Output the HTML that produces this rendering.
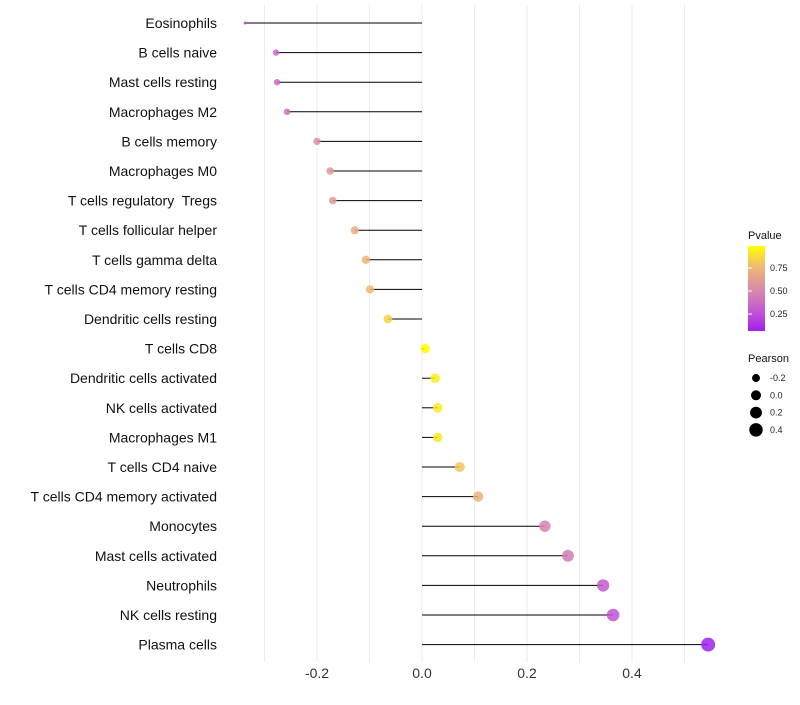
<!DOCTYPE html>
<html><head><meta charset="utf-8"><style>
body{margin:0;background:#fff;font-family:"Liberation Sans",sans-serif;}
text{white-space:pre;}
</style></head><body>
<svg id="chart" width="800" height="700">
<defs><linearGradient id="pg" x1="0" y1="1" x2="0" y2="0">
<stop offset="0" stop-color="#A020F0"/><stop offset="0.2" stop-color="#C050D8"/><stop offset="0.45" stop-color="#D683B0"/><stop offset="0.75" stop-color="#EDB874"/><stop offset="1" stop-color="#FFFF00"/></linearGradient></defs>
<g id="grid"></g><g id="marks"></g><g id="labels"></g><g id="legend"></g>
</svg>
<script>
const categories=["Eosinophils","B cells naive","Mast cells resting","Macrophages M2","B cells memory","Macrophages M0","T cells regulatory  Tregs","T cells follicular helper","T cells gamma delta","T cells CD4 memory resting","Dendritic cells resting","T cells CD8","Dendritic cells activated","NK cells activated","Macrophages M1","T cells CD4 naive","T cells CD4 memory activated","Monocytes","Mast cells activated","Neutrophils","NK cells resting","Plasma cells"];
const pearson=[-0.337,-0.278,-0.276,-0.257,-0.2,-0.175,-0.17,-0.128,-0.107,-0.099,-0.065,0.006,0.025,0.03,0.03,0.072,0.107,0.234,0.278,0.345,0.364,0.545];
const pvalue=[0.2,0.36,0.36,0.4,0.55,0.6,0.6,0.7,0.75,0.77,0.85,0.99,0.93,0.92,0.92,0.8,0.72,0.48,0.44,0.3,0.26,0.065];
const xTicks=[-0.2,0,0.2,0.4];
const xTickLabels=["-0.2","0.0","0.2","0.4"];
const xGrid=[-0.3,-0.2,-0.1,0,0.1,0.2,0.3,0.4,0.5];
const sizeLegend=[-0.2,0,0.2,0.4];
const pTicks=[0.25,0.5,0.75];
const NS="http://www.w3.org/2000/svg";
const X=v=>422+v*525;
const Y=i=>23+i*29.6;
const pmin=0.065,pmax=0.99;
const stops=[[0,[160,32,240]],[0.2,[192,80,216]],[0.45,[214,131,176]],[0.75,[237,184,116]],[1,[255,255,0]]];
function col(p){let t=(p-pmin)/(pmax-pmin);t=Math.max(0,Math.min(1,t));
for(let k=1;k<stops.length;k++){if(t<=stops[k][0]){const a=stops[k-1],b=stops[k];const f=(t-a[0])/(b[0]-a[0]);
return "rgb("+a[1].map((c,j)=>Math.round(c+(b[1][j]-c)*f)).join(",")+")";}}return "rgb(255,255,0)";}
const vmin=Math.min(...pearson),vmax=Math.max(...pearson);
const R=v=>{const f=(v-vmin)/(vmax-vmin);return f<=0.01?1.5:2.7+4.3*Math.pow(f,0.8);};
function mk(tag,attrs,parent,text){const e=document.createElementNS(NS,tag);for(const k in attrs)e.setAttribute(k,attrs[k]);if(text!==undefined)e.textContent=text;document.getElementById(parent).appendChild(e);return e;}
xGrid.forEach(g=>{const l=mk("line",{x1:X(g),x2:X(g),y1:5,y2:662,stroke:"#ebebeb","stroke-width":1},"grid");

});
categories.forEach((c,i)=>{
const s=mk("line",{x1:X(0),x2:X(pearson[i]),y1:Y(i),y2:Y(i),stroke:"#000","stroke-width":1},"marks");


const d=mk("circle",{cx:X(pearson[i]),cy:Y(i),r:R(pearson[i]),fill:col(pvalue[i]),"fill-opacity":0.85},"marks");


const t=mk("text",{x:217,y:Y(i)+5,"text-anchor":"end","font-size":14,fill:"#111"},"labels",c);

});
xTicks.forEach((v,i)=>{const t=mk("text",{x:X(v),y:678,"text-anchor":"middle","font-size":14,fill:"#333"},"labels",xTickLabels[i]);

});
const lt=mk("text",{x:748,y:239,"font-size":11,fill:"#111"},"legend","Pvalue");


const cb=mk("rect",{x:748,y:246,width:17,height:85,fill:"url(#pg)"},"legend");


pTicks.forEach(p=>{const y=331-(p-pmin)/(pmax-pmin)*85;
const tk=mk("line",{x1:748,x2:752,y1:y,y2:y,stroke:"#fff"},"legend");


const t=mk("text",{x:770,y:y+3,"font-size":9,fill:"#222"},"legend",p.toFixed(2));

});
const st=mk("text",{x:748,y:362,"font-size":11,fill:"#111"},"legend","Pearson");


sizeLegend.forEach((v,i)=>{const y=378+i*17.3;
const c=mk("circle",{cx:756,cy:y,r:R(v)+0.3,fill:"#000"},"legend");


const t=mk("text",{x:770,y:y+3,"font-size":9,fill:"#222"},"legend",v===0?"0.0":String(v));

});
</script>
</body></html>
